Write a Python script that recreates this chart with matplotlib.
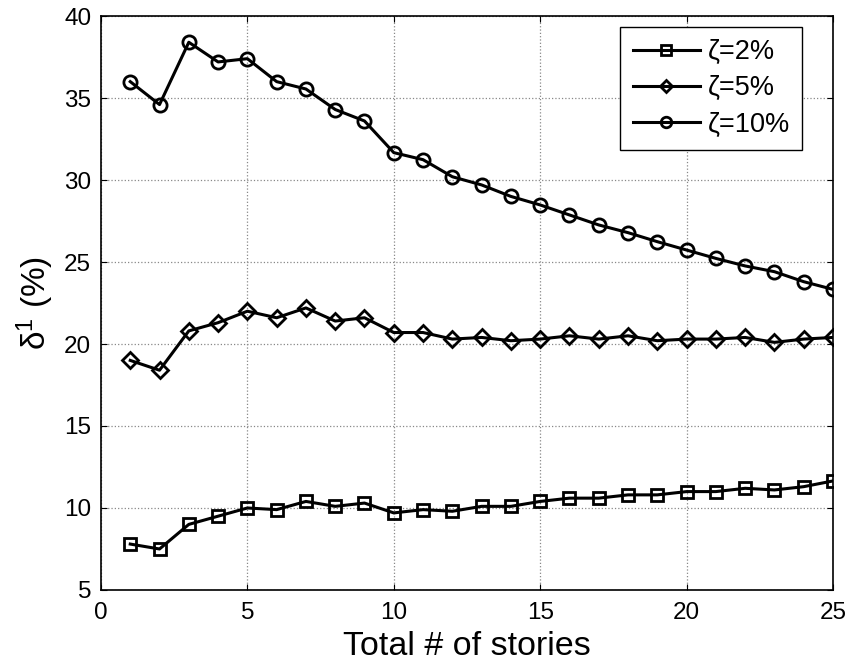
import matplotlib
matplotlib.use("Agg")
import matplotlib.pyplot as plt
import numpy as np

plt.rcParams['font.family'] = ['Liberation Sans', 'DejaVu Sans']
plt.rcParams['mathtext.fontset'] = 'custom'
plt.rcParams['mathtext.rm'] = 'Liberation Sans'
plt.rcParams['mathtext.it'] = 'Liberation Sans:italic'

stories = np.arange(1, 26)
zeta2 = [7.8, 7.5, 9.0, 9.5, 10.0, 9.9, 10.4, 10.1, 10.3, 9.7, 9.9, 9.8, 10.1,
         10.1, 10.4, 10.6, 10.6, 10.8, 10.8, 11.0, 11.0, 11.2, 11.1, 11.3, 11.65]
zeta5 = [19.0, 18.4, 20.8, 21.3, 22.0, 21.6, 22.2, 21.4, 21.6, 20.7, 20.7, 20.3, 20.4,
         20.2, 20.3, 20.5, 20.3, 20.5, 20.2, 20.3, 20.3, 20.4, 20.1, 20.3, 20.4]
zeta10 = [36.0, 34.6, 38.4, 37.2, 37.4, 36.0, 35.55, 34.3, 33.6, 31.67, 31.24, 30.2, 29.7,
          29.0, 28.48, 27.87, 27.26, 26.79, 26.24, 25.73, 25.22, 24.76, 24.41, 23.8, 23.33]
labels = ['ζ=2%', 'ζ=5%', 'ζ=10%']
markers = ['s', 'D', 'o']
msizes = [9, 8, 9.5]

fig = plt.figure(figsize=(8.52, 6.68), dpi=100)
ax = fig.add_axes([0.1185, 0.1168, 0.8592, 0.8592])

for vals, lab, m, ms in zip([zeta2, zeta5, zeta10], labels, markers, msizes):
    ax.plot(stories, vals, color='black', lw=2.2, marker=m, ms=ms,
            mfc='none', mec='black', mew=2, label=lab)

ax.set_xlim(0, 25)
ax.set_ylim(5, 40)
ax.set_xticks(np.arange(0, 26, 5))
ax.set_yticks(np.arange(5, 41, 5))
ax.grid(True, color='#888888', linestyle=':', linewidth=0.9)
ax.tick_params(direction='in', top=True, right=True, labelsize=17.5, length=4)
ax.tick_params(axis='x', pad=9)
ax.tick_params(axis='y', pad=7)
for s in ax.spines.values():
    s.set_linewidth(1.2)

ax.set_xlabel('Total # of stories', fontsize=24.5, labelpad=5)
ax.set_ylabel('δ$^{1}$ (%)', fontsize=24, labelpad=6)

leg = ax.legend(loc='upper right', fontsize=19.5, handlelength=2.5, fancybox=False,
                framealpha=1, edgecolor='black', borderpad=0.45, labelspacing=0.38,
                handletextpad=0.28, borderaxespad=0, markerscale=0.8,
                bbox_to_anchor=(0.958, 0.981))
leg.get_frame().set_linewidth(1)

fig.savefig('out.png', dpi=100)
